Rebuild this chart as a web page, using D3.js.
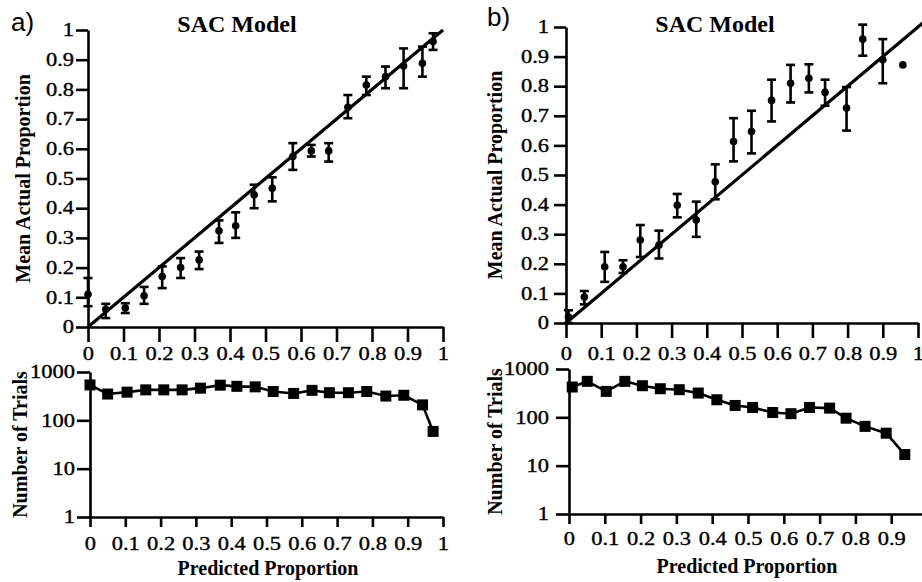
<!DOCTYPE html>
<html>
<head>
<meta charset="utf-8">
<script src="https://cdn.jsdelivr.net/npm/d3@7"></script>
<style>
body { margin: 0; background: #fff; }
svg { display: block; }
text { font-family: "Liberation Serif", "Times New Roman", serif; fill: #000; }
</style>
</head>
<body>
<div id="chart"></div>
<script>
// Tick values shared by all panels
const propTicks = [0, 0.1, 0.2, 0.3, 0.4, 0.5, 0.6, 0.7, 0.8, 0.9, 1];
const trialTicks = [1, 10, 100, 1000];

// Panel a) predicted bins, mean actual proportion, error bar ends, trial counts
const predA = [0, 0.05, 0.105, 0.158, 0.209, 0.261, 0.313, 0.369, 0.416, 0.468, 0.519, 0.577, 0.629, 0.678, 0.732, 0.784, 0.838, 0.889, 0.942, 0.972];
const meanA = [0.11, 0.06, 0.064, 0.105, 0.17, 0.2, 0.226, 0.324, 0.341, 0.445, 0.467, 0.574, 0.593, 0.593, 0.74, 0.815, 0.843, 0.879, 0.888, 0.961];
const loA = [0.07, 0.03, 0.047, 0.078, 0.131, 0.165, 0.195, 0.283, 0.30, 0.40, 0.423, 0.529, 0.574, 0.557, 0.703, 0.781, 0.804, 0.804, 0.843, 0.933];
const hiA = [0.165, 0.078, 0.08, 0.135, 0.204, 0.232, 0.254, 0.359, 0.386, 0.479, 0.504, 0.619, 0.613, 0.619, 0.781, 0.843, 0.877, 0.938, 0.944, 0.989];
const trialsA = [540, 350, 383, 427, 427, 427, 463, 534, 505, 493, 395, 360, 417, 373, 373, 395, 318, 330, 209, 59];
const refA = [0, 1];

// Panel b)
const predB = [0.007, 0.052, 0.11, 0.162, 0.211, 0.264, 0.316, 0.37, 0.424, 0.476, 0.527, 0.584, 0.638, 0.69, 0.736, 0.797, 0.843, 0.9, 0.957];
const meanB = [0.02, 0.088, 0.19, 0.19, 0.28, 0.263, 0.398, 0.348, 0.477, 0.613, 0.647, 0.752, 0.81, 0.827, 0.779, 0.726, 0.959, 0.889, 0.872];
const loB = [0.0, 0.063, 0.139, 0.169, 0.223, 0.218, 0.357, 0.291, 0.418, 0.546, 0.573, 0.681, 0.745, 0.779, 0.734, 0.65, 0.903, 0.81, 0.872];
const hiB = [0.043, 0.108, 0.24, 0.212, 0.331, 0.312, 0.436, 0.41, 0.536, 0.692, 0.717, 0.822, 0.872, 0.874, 0.822, 0.797, 1.008, 0.959, 0.872];
const trialBinsB = [0.009, 0.051, 0.104, 0.156, 0.205, 0.255, 0.308, 0.361, 0.413, 0.464, 0.513, 0.569, 0.62, 0.672, 0.728, 0.774, 0.827, 0.886, 0.938];
const trialsB = [424, 555, 344, 555, 451, 391, 373, 318, 231, 176, 160, 126, 119, 160, 155, 96, 65, 47, 17];
const refB = [0, 1.02];

const svg = d3.select("#chart").append("svg")
    .attr("width", 922)
    .attr("height", 582);

svg.append("rect").attr("width", 922).attr("height", 582).attr("fill", "#fff");

const stretch = 1.25; // tick labels of the scan are wide

function styleAxis(g, side, offset) {
    g.select(".domain").attr("stroke", "#000").attr("stroke-width", 2.6);
    g.selectAll(".tick line").attr("stroke", "#000").attr("stroke-width", 2.6);
    const t = g.selectAll(".tick text")
        .attr("font-size", "18px")
        .attr("font-family", "Liberation Serif, Times New Roman, serif")
        .attr("stroke", "#000").attr("stroke-width", 0.35)
        .attr("transform", `scale(${stretch},1)`);
    if (side === "left") t.attr("x", -offset / stretch);
    else t.attr("y", offset);
}

function axisLabel(x, y, txt, rotate) {
    svg.append("text")
        .attr("transform", `translate(${x},${y})` + (rotate ? " rotate(-90)" : ""))
        .attr("text-anchor", "middle")
        .attr("font-size", "20px")
        .attr("font-weight", "bold")
        .text(txt);
}

function drawTop(c) {
    const x = d3.scaleLinear().domain([0, 1]).range(c.xr);
    const y = d3.scaleLinear().domain([0, 1]).range(c.yr);

    svg.append("g")
        .attr("transform", `translate(0,${c.yr[0]})`)
        .call(d3.axisBottom(x).tickValues(propTicks).tickFormat(d => d).tickSize(15).tickSizeOuter(0))
        .call(g => styleAxis(g, "bottom", c.xLab));
    svg.append("g")
        .attr("transform", `translate(${c.xr[0]},0)`)
        .call(d3.axisLeft(y).tickValues(propTicks).tickFormat(d => d).tickSize(12).tickSizeOuter(0))
        .call(g => styleAxis(g, "left", c.yLab));

    // perfect calibration line
    svg.append("path")
        .datum(c.ref)
        .attr("d", d3.line().x(d => x(d)).y(d => y(d)))
        .attr("stroke", "#000").attr("stroke-width", 3.2).attr("fill", "none");

    const pts = c.pred.map((p, i) => ({ p, m: c.mean[i], lo: c.lo[i], hi: c.hi[i] }));
    const bars = svg.append("g").attr("stroke", "#000").attr("stroke-width", 2.6);
    bars.selectAll(".v").data(pts).enter().append("line")
        .attr("x1", d => x(d.p)).attr("x2", d => x(d.p))
        .attr("y1", d => y(d.lo)).attr("y2", d => y(d.hi));
    bars.selectAll(".ct").data(pts.filter(d => d.hi > d.lo)).enter().append("line")
        .attr("x1", d => x(d.p) - 4.5).attr("x2", d => x(d.p) + 4.5)
        .attr("y1", d => y(d.hi)).attr("y2", d => y(d.hi));
    bars.selectAll(".cb").data(pts.filter(d => d.hi > d.lo)).enter().append("line")
        .attr("x1", d => x(d.p) - 4.5).attr("x2", d => x(d.p) + 4.5)
        .attr("y1", d => y(d.lo)).attr("y2", d => y(d.lo));
    svg.append("g").selectAll("circle").data(pts).enter().append("circle")
        .attr("cx", d => x(d.p)).attr("cy", d => y(d.m))
        .attr("r", 3.8).attr("fill", "#000");

    svg.append("text")
        .attr("x", c.titleX).attr("y", c.titleY)
        .attr("text-anchor", "middle")
        .attr("font-size", "24px").attr("font-weight", "bold")
        .text("SAC Model");
    svg.append("text")
        .attr("x", c.tagX).attr("y", c.tagY)
        .attr("font-family", "Liberation Sans, Arial, sans-serif")
        .style("font-family", "Liberation Sans, Arial, sans-serif")
        .attr("font-size", "26px")
        .text(c.tag);

    axisLabel(c.labX, (c.yr[0] + c.yr[1]) / 2, "Mean Actual Proportion", true);
}

function drawBottom(c) {
    const x = d3.scaleLinear().domain([0, 1]).range(c.xr);
    const y = d3.scaleLog().domain([1, 1000]).range(c.yr);

    svg.append("g")
        .attr("transform", `translate(0,${c.yr[0]})`)
        .call(d3.axisBottom(x).tickValues(propTicks).tickFormat(d => d).tickSize(10).tickSizeOuter(0))
        .call(g => styleAxis(g, "bottom", c.xLab));
    svg.append("g")
        .attr("transform", `translate(${c.xr[0]},0)`)
        .call(d3.axisLeft(y).tickValues(trialTicks).tickFormat(d => d).tickSize(13).tickSizeOuter(0))
        .call(g => styleAxis(g, "left", c.yLab));

    const pts = c.bins.map((p, i) => ({ p, n: c.trials[i] }));
    svg.append("path")
        .datum(pts)
        .attr("d", d3.line().x(d => x(d.p)).y(d => y(d.n)))
        .attr("stroke", "#000").attr("stroke-width", 2.6).attr("fill", "none");
    svg.append("g").selectAll("rect").data(pts).enter().append("rect")
        .attr("x", d => x(d.p) - 5.5).attr("y", d => y(d.n) - 5.5)
        .attr("width", 11).attr("height", 11)
        .attr("fill", "#000");

    axisLabel(c.labX, (c.yr[0] + c.yr[1]) / 2, "Number of Trials", true);
    axisLabel(c.predX, c.predY, "Predicted Proportion", false);
}

drawTop({
    xr: [88, 443], yr: [327, 30], xLab: 20, yLab: 14,
    pred: predA, mean: meanA, lo: loA, hi: hiA, ref: refA,
    titleX: 237, titleY: 32, tag: "a)", tagX: 11, tagY: 31, labX: 30
});
drawBottom({
    xr: [90, 443], yr: [517, 372], xLab: 20, yLab: 15,
    bins: predA, trials: trialsA, labX: 27, predX: 268, predY: 575
});

drawTop({
    xr: [566, 918], yr: [323, 27], xLab: 24, yLab: 17,
    pred: predB, mean: meanB, lo: loB, hi: hiB, ref: refB,
    titleX: 715, titleY: 32, tag: "b)", tagX: 487, tagY: 26, labX: 502
});
drawBottom({
    xr: [569, 927], yr: [514, 369], xLab: 18, yLab: 20,
    bins: trialBinsB, trials: trialsB, labX: 502, predX: 747, predY: 573
});
</script>
</body>
</html>
